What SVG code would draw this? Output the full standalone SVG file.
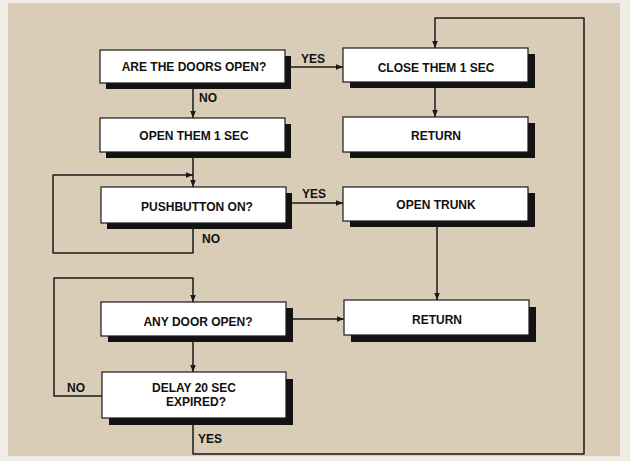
<svg xmlns="http://www.w3.org/2000/svg" width="630" height="461" viewBox="0 0 630 461">
<defs>
<marker id="ah" viewBox="0 0 10 10" refX="10" refY="5" markerWidth="7" markerHeight="7" markerUnits="userSpaceOnUse" orient="auto">
<path d="M0,1 L10,5 L0,9 z" fill="#1a1a1a"/>
</marker>
</defs>
<style>
.bg{fill:#d9cdb7}
.sh{fill:#121212}
.bx{fill:#ffffff;stroke:#1a1a1a;stroke-width:1.2}
.t{font-family:"Liberation Sans",Arial,sans-serif;font-size:12px;font-weight:bold;fill:#111;text-anchor:middle}
.lb{font-family:"Liberation Sans",Arial,sans-serif;font-size:12px;font-weight:bold;fill:#111}
.ln{fill:none;stroke:#1a1a1a;stroke-width:1.5;stroke-linejoin:round}
</style>
<rect x="0" y="0" width="630" height="461" fill="#f1ede6"/>
<rect class="bg" x="8" y="3" width="612" height="453"/>

<g id="connectors">
<path class="ln" d="M285,67 H343" marker-end="url(#ah)"/>
<path class="ln" d="M193,83 V118" marker-end="url(#ah)"/>
<path class="ln" d="M193,152 V187" marker-end="url(#ah)"/>
<path class="ln" d="M193,223 V253 H53 V175 H193" marker-end="url(#ah)"/>
<path class="ln" d="M286,203 H343" marker-end="url(#ah)"/>
<path class="ln" d="M435,82 V117" marker-end="url(#ah)"/>
<path class="ln" d="M437,221 V300" marker-end="url(#ah)"/>
<path class="ln" d="M102,396 H54 V278 H193 V302" marker-end="url(#ah)"/>
<path class="ln" d="M286,319 H344" marker-end="url(#ah)"/>
<path class="ln" d="M193,336 V372" marker-end="url(#ah)"/>
<path class="ln" d="M193,418 V454 H584 V18 H435 V48" marker-end="url(#ah)"/>
<text class="lb" x="301" y="63">YES</text>
<text class="lb" x="199" y="102">NO</text>
<text class="lb" x="302" y="198">YES</text>
<text class="lb" x="202" y="243">NO</text>
<text class="lb" x="67" y="392">NO</text>
<text class="lb" x="198" y="443">YES</text>
</g>

<g id="n-doors-open">
<rect class="sh" x="106" y="56" width="185" height="33"/>
<rect class="bx" x="100" y="50" width="185" height="33"/>
<text class="t" x="194" y="71">ARE THE DOORS OPEN?</text>
</g>
<g id="n-open-them">
<rect class="sh" x="106" y="124" width="185" height="34"/>
<rect class="bx" x="100" y="118" width="185" height="34"/>
<text class="t" x="194" y="140">OPEN THEM 1 SEC</text>
</g>
<g id="n-pushbutton">
<rect class="sh" x="107" y="193" width="185" height="36"/>
<rect class="bx" x="101" y="187" width="185" height="36"/>
<text class="t" x="197" y="211">PUSHBUTTON ON?</text>
</g>
<g id="n-any-door">
<rect class="sh" x="108" y="308" width="185" height="34"/>
<rect class="bx" x="101" y="302" width="185" height="34"/>
<text class="t" x="198" y="326">ANY DOOR OPEN?</text>
</g>
<g id="n-delay">
<rect class="sh" x="109" y="379" width="184" height="46"/>
<rect class="bx" x="102" y="372" width="184" height="46"/>
<text class="t" x="194" y="392">DELAY 20 SEC</text>
<text class="t" x="196" y="406">EXPIRED?</text>
</g>
<g id="n-close-them">
<rect class="sh" x="350" y="54" width="185" height="34"/>
<rect class="bx" x="343" y="48" width="185" height="34"/>
<text class="t" x="436" y="72">CLOSE THEM 1 SEC</text>
</g>
<g id="n-return1">
<rect class="sh" x="350" y="123" width="185" height="35"/>
<rect class="bx" x="343" y="117" width="185" height="35"/>
<text class="t" x="436" y="140">RETURN</text>
</g>
<g id="n-open-trunk">
<rect class="sh" x="350" y="193" width="185" height="34"/>
<rect class="bx" x="343" y="187" width="185" height="34"/>
<text class="t" x="436" y="209">OPEN TRUNK</text>
</g>
<g id="n-return2">
<rect class="sh" x="351" y="307" width="185" height="35"/>
<rect class="bx" x="344" y="300" width="185" height="35"/>
<text class="t" x="437" y="324">RETURN</text>
</g>
</svg>
